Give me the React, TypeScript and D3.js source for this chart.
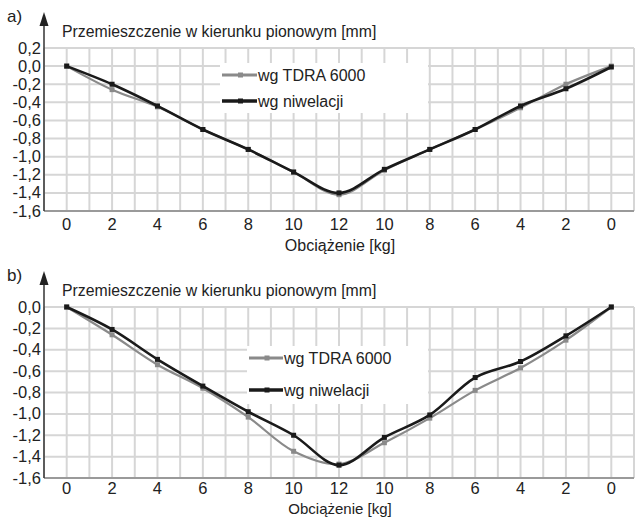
import React, { useEffect, useRef } from "react";
import * as d3 from "d3";

// load steps along the x axis (loading then unloading)
const loadLabels = ["0", "2", "4", "6", "8", "10", "12", "10", "8", "6", "4", "2", "0"];

// panel a)
const tdraA = [0, -0.26, -0.45, -0.7, -0.92, -1.17, -1.42, -1.15, -0.92, -0.7, -0.46, -0.2, 0];
const nivelA = [0, -0.2, -0.44, -0.7, -0.92, -1.17, -1.4, -1.14, -0.92, -0.7, -0.44, -0.25, -0.01];
const yTicksA = [0.2, 0, -0.2, -0.4, -0.6, -0.8, -1.0, -1.2, -1.4, -1.6];

// panel b)
const tdraB = [0, -0.26, -0.54, -0.76, -1.03, -1.35, -1.47, -1.27, -1.04, -0.78, -0.57, -0.31, 0];
const nivelB = [0, -0.21, -0.49, -0.74, -0.98, -1.2, -1.48, -1.22, -1.01, -0.66, -0.51, -0.27, 0];
const yTicksB = [0, -0.2, -0.4, -0.6, -0.8, -1.0, -1.2, -1.4, -1.6];

const seriesNames = ["wg TDRA 6000", "wg niwelacji"];

const FONT = "'Liberation Sans', Arial, sans-serif";

function drawPanel(root, opts) {
  const { letter, top, yMax, bottom, ticks, tdra, nivel, legend, labelY, tickDy, labelSize } = opts;
  const left = 44;
  const right = 634;
  const plotTop = top + 34;

  const g = root.append("g");

  const x = d3.scaleBand()
    .domain(loadLabels.map((d, i) => i))
    .range([left, right]);
  const y = d3.scaleLinear()
    .domain([-1.6, yMax])
    .range([bottom, plotTop]);

  // grid: band edges and centers
  const vLines = [];
  loadLabels.forEach((d, i) => {
    vLines.push(x(i));
    vLines.push(x(i) + x.bandwidth() / 2);
  });
  vLines.push(right);
  g.append("g")
    .selectAll("line")
    .data(vLines)
    .join("line")
    .attr("x1", d => d).attr("x2", d => d)
    .attr("y1", plotTop).attr("y2", bottom)
    .attr("stroke", "#d6d6d6").attr("stroke-width", 2);
  g.append("g")
    .selectAll("line")
    .data(ticks)
    .join("line")
    .attr("x1", left).attr("x2", right)
    .attr("y1", d => y(d)).attr("y2", d => y(d))
    .attr("stroke", "#d6d6d6").attr("stroke-width", 2);

  // legend background
  g.append("rect")
    .attr("x", legend.x).attr("y", legend.y)
    .attr("width", legend.w).attr("height", legend.h)
    .attr("fill", "#fff");

  // axes
  g.append("line")
    .attr("x1", left).attr("x2", right)
    .attr("y1", bottom).attr("y2", bottom)
    .attr("stroke", "#9a9a9a").attr("stroke-width", 2);
  g.append("line")
    .attr("x1", left).attr("x2", left)
    .attr("y1", bottom).attr("y2", top + 6)
    .attr("stroke", "#333").attr("stroke-width", 1.5);
  g.append("path")
    .attr("d", `M${left - 4.5},${top + 12}L${left},${top - 2}L${left + 4.5},${top + 12}Z`)
    .attr("fill", "#222");

  g.append("text")
    .attr("x", 7).attr("y", top + 8)
    .attr("font-size", 17).attr("fill", "#222")
    .text(letter + ")");
  g.append("text")
    .attr("x", 62).attr("y", top + 23)
    .attr("font-size", 15.8).attr("fill", "#222")
    .text("Przemieszczenie w kierunku pionowym [mm]");

  // y tick labels
  g.append("g")
    .selectAll("text")
    .data(ticks)
    .join("text")
    .attr("x", 41).attr("y", d => y(d) + 5.5)
    .attr("text-anchor", "end")
    .attr("font-size", 16.5).attr("fill", "#222")
    .text(d => d3.format(".1f")(d).replace(".", ",").replace("−", "-"));

  // x tick labels
  g.append("g")
    .selectAll("text")
    .data(loadLabels)
    .join("text")
    .attr("x", (d, i) => x(i) + x.bandwidth() / 2)
    .attr("y", bottom + tickDy)
    .attr("text-anchor", "middle")
    .attr("font-size", 16.5).attr("fill", "#222")
    .text(d => d);
  g.append("text")
    .attr("x", 340).attr("y", labelY)
    .attr("text-anchor", "middle")
    .attr("font-size", labelSize).attr("fill", "#222")
    .text("Obciążenie [kg]");

  const line = d3.line()
    .x((d, i) => x(i) + x.bandwidth() / 2)
    .y(d => y(d))
    .curve(d3.curveCatmullRom.alpha(0.5));

  const series = [
    { name: seriesNames[0], values: tdra, color: "#8a8a8a", width: 2.2 },
    { name: seriesNames[1], values: nivel, color: "#1a1a1a", width: 2.6 }
  ];

  series.forEach((s, k) => {
    g.append("path")
      .attr("d", line(s.values))
      .attr("fill", "none")
      .attr("stroke", s.color)
      .attr("stroke-width", s.width);
    g.append("g")
      .selectAll("rect")
      .data(s.values)
      .join("rect")
      .attr("x", (d, i) => x(i) + x.bandwidth() / 2 - 2.5)
      .attr("y", d => y(d) - 2.5)
      .attr("width", 5).attr("height", 5)
      .attr("fill", s.color);

    const ly = legend.y + legend.first + k * legend.gap;
    g.append("line")
      .attr("x1", legend.x + 2).attr("x2", legend.x + legend.lineW)
      .attr("y1", ly).attr("y2", ly)
      .attr("stroke", s.color).attr("stroke-width", s.width + 1);
    g.append("rect")
      .attr("x", legend.x + 2 + legend.lineW / 2 - 2.5)
      .attr("y", ly - 2.5)
      .attr("width", 5).attr("height", 5)
      .attr("fill", s.color);
    g.append("text")
      .attr("x", legend.x + legend.lineW + 1)
      .attr("y", ly + 6)
      .attr("font-size", 16).attr("fill", "#222")
      .text(s.name);
  });
}

const App = () => {
  const ref = useRef(null);

  useEffect(() => {
    const svg = d3.select(ref.current);
    svg.selectAll("*").remove();
    svg.attr("font-family", FONT);

    drawPanel(svg, {
      letter: "a", top: 14, yMax: 0.2, bottom: 211, labelY: 251, tickDy: 19, labelSize: 16,
      ticks: yTicksA, tdra: tdraA, nivel: nivelA,
      legend: { x: 220, y: 63, w: 208, h: 50, first: 12, gap: 26, lineW: 37 }
    });
    drawPanel(svg, {
      letter: "b", top: 273, yMax: 0, bottom: 478, labelY: 514, tickDy: 16, labelSize: 15,
      ticks: yTicksB, tdra: tdraB, nivel: nivelB,
      legend: { x: 247, y: 346, w: 181, h: 58, first: 12, gap: 32, lineW: 36 }
    });
  }, []);

  return (
    <svg
      ref={ref}
      width={635}
      height={517}
      style={{ position: "absolute", left: 0, top: 0, background: "#fff" }}
    />
  );
};

export default App;
